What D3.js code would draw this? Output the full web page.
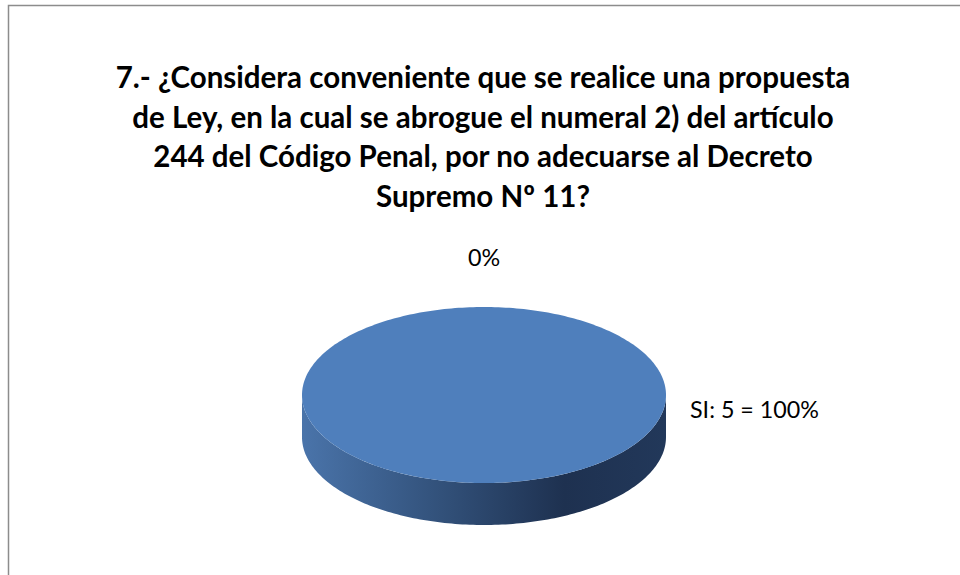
<!DOCTYPE html>
<html>
<head>
<meta charset="utf-8">
<script src="https://cdn.jsdelivr.net/npm/d3@7"></script>
<style>
  body { margin: 0; background: #fff; }
  svg { display: block; font-family: Lato, "Open Sans", sans-serif; }
</style>
</head>
<body>
<svg width="960" height="575"></svg>
<script>
// data
var categories = ["SI", "NO"];
var values = [5, 0];
var labels = ["SI: 5 = 100%", "0%"];
var titleLines = [
  "7.- ¿Considera conveniente que se realice una propuesta",
  "de Ley, en la cual se abrogue el numeral 2) del artículo",
  "244 del Código Penal, por no adecuarse al Decreto",
  "Supremo Nº 11?"
];

const svg = d3.select("svg");

// chart frame
svg.append("rect")
  .attr("x", 8.5).attr("y", 5.5)
  .attr("width", 1000).attr("height", 600)
  .attr("fill", "#fff")
  .attr("stroke", "#8c8c8c")
  .attr("stroke-width", 1.5);

// title
var title = svg.append("text")
  .attr("text-anchor", "middle")
  .attr("font-weight", "bold")
  .attr("fill", "#000")
  .attr("font-size", 26);
title.selectAll("tspan")
  .data(titleLines)
  .enter().append("tspan")
  .attr("x", 483)
  .attr("y", function(d, i) { return 88 + i * 39.5; })
  .text(function(d) { return d; });

// fit the first line to the reference width
var w0 = title.select("tspan").node().getComputedTextLength();
title.attr("font-size", 26 * 735 / w0);

// pie geometry
var cx = 484, cy = 395, rx = 182, ry = 88, depth = 42;

var pie = d3.pie().sort(null).value(function(d) { return d; });
var arcs = pie(values);

var color = d3.scaleOrdinal().domain(categories).range(["#4f7fbc", "#c0504d"]);

// x / y for an angle (d3 convention: 0 at top, clockwise)
function px(a) { return cx + rx * Math.sin(a); }
function py(a, dy) { return cy - ry * Math.cos(a) + (dy || 0); }

var defs = svg.append("defs");
var grad = defs.append("linearGradient")
  .attr("id", "side")
  .attr("gradientUnits", "userSpaceOnUse")
  .attr("x1", cx - rx).attr("x2", cx + rx)
  .attr("y1", 0).attr("y2", 0);
grad.append("stop").attr("offset", "0%").attr("stop-color", "#4a74aa");
grad.append("stop").attr("offset", "35%").attr("stop-color", "#34547e");
grad.append("stop").attr("offset", "72%").attr("stop-color", "#1e3150");
grad.append("stop").attr("offset", "100%").attr("stop-color", "#22385a");

function sample(a0, a1, dy) {
  var n = Math.max(2, Math.ceil(Math.abs(a1 - a0) / 0.02));
  var pts = [];
  for (var i = 0; i <= n; i++) {
    var a = a0 + (a1 - a0) * i / n;
    pts.push([px(a), py(a, dy)]);
  }
  return pts;
}

var line = d3.line();

// sides (front half only)
arcs.forEach(function(d) {
  if (d.endAngle - d.startAngle <= 0) return;
  var a0 = Math.max(d.startAngle, Math.PI / 2);
  var a1 = Math.min(d.endAngle, Math.PI * 1.5);
  if (a1 <= a0) return;
  var top = sample(a0, a1, 0);
  var bottom = sample(a1, a0, depth);
  svg.append("path")
    .attr("d", line(top.concat(bottom)) + "Z")
    .attr("fill", "url(#side)");
});

// top faces
arcs.forEach(function(d, i) {
  if (d.endAngle - d.startAngle <= 0) return;
  var path;
  if (d.endAngle - d.startAngle >= 2 * Math.PI - 1e-6) {
    path = line(sample(0, 2 * Math.PI, 0)) + "Z";
  } else {
    path = line([[cx, cy]].concat(sample(d.startAngle, d.endAngle, 0))) + "Z";
  }
  svg.append("path")
    .attr("d", path)
    .attr("fill", color(categories[i]));
});

// data labels
var labelSize = 21;
arcs.forEach(function(d, i) {
  var t = svg.append("text")
    .attr("class", "lbl")
    .attr("font-size", labelSize)
    .attr("fill", "#000")
    .text(labels[i]);
  if (values[i] === 0) {
    t.attr("text-anchor", "middle")
      .attr("x", px(d.startAngle))
      .attr("y", py(d.startAngle) - 41);
  } else {
    t.attr("text-anchor", "start")
      .attr("x", cx + rx + 24)
      .attr("y", cy + 23);
    var wl = t.node().getComputedTextLength();
    labelSize = labelSize * 129 / wl;
  }
});
svg.selectAll(".lbl").attr("font-size", labelSize);
</script>
</body>
</html>
